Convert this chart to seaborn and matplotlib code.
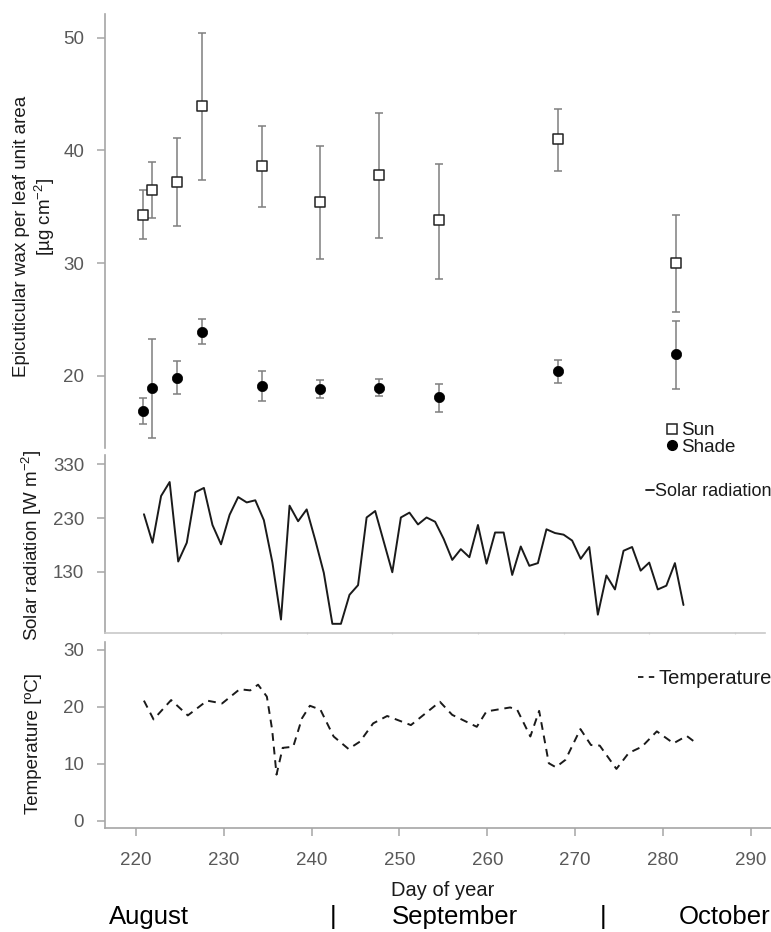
import matplotlib
matplotlib.use("Agg")
import matplotlib.pyplot as plt
import seaborn as sns
import pandas as pd
from matplotlib.lines import Line2D

# ---------------- data ----------------
wax_day = [220.8, 221.8, 224.7, 227.5, 234.3, 241.0, 247.7, 254.5, 268.0, 281.5]
sun_mean = [34.3, 36.5, 37.2, 43.9, 38.6, 35.4, 37.8, 33.8, 41.0, 30.0]
sun_hi = [36.5, 39.0, 41.1, 50.4, 42.2, 40.4, 43.3, 38.8, 43.7, 34.3]
sun_lo = [32.1, 34.0, 33.3, 37.4, 35.0, 30.4, 32.2, 28.6, 38.2, 25.7]
shade_mean = [16.9, 18.9, 19.8, 23.9, 19.1, 18.8, 18.9, 18.1, 20.4, 21.9]
shade_hi = [18.0, 23.3, 21.3, 25.0, 20.4, 19.6, 19.7, 19.3, 21.4, 24.9]
shade_lo = [15.7, 14.5, 18.4, 22.8, 17.8, 18.0, 18.2, 16.8, 19.4, 18.8]

solar_day = list(range(221, 285))
solar = [237, 184, 271, 297, 149, 184, 278, 286, 217, 181,
         236, 269, 259, 263, 226, 147, 41, 253, 224, 246,
         189, 128, 33, 33, 87, 105, 231, 243, 186, 129,
         231, 240, 218, 231, 223, 191, 152, 172, 157, 217,
         145, 203, 203, 124, 177, 141, 146, 209, 202, 199,
         188, 154, 176, 50, 123, 97, 169, 176, 132, 147,
         97, 104, 146, 68]

temp_day = [220.9, 222.0, 224.0, 225.9, 228.1, 229.8, 231.8, 233.0, 233.9, 234.9,
            235.5, 236.0, 236.7, 237.9, 238.9, 239.8, 241.0, 242.5, 244.2, 245.5,
            247.0, 248.6, 251.3, 254.6, 256.0, 258.8, 259.9, 262.6, 263.4, 264.9,
            265.9, 266.3, 267.0, 267.8, 268.9, 270.6, 271.8, 272.8, 274.7, 276.1,
            277.6, 279.3, 281.2, 282.7, 283.9]
temp = [21.1, 17.8, 21.2, 18.5, 21.1, 20.6, 23.1, 22.9, 23.9, 21.8,
        16.0, 8.1, 12.8, 13.0, 18.0, 20.2, 19.5, 14.8, 12.6, 13.9,
        17.1, 18.4, 16.8, 20.9, 18.6, 16.5, 19.2, 19.9, 19.5, 14.8,
        19.3, 16.0, 10.1, 9.4, 10.7, 16.1, 13.3, 13.2, 9.1, 11.9,
        13.0, 15.7, 13.6, 14.9, 13.5]

x_ticks = [220, 230, 240, 250, 260, 270, 280, 290]
wax_ticks = [20, 30, 40, 50]
solar_ticks = [130, 230, 330]
temp_ticks = [0, 10, 20, 30]
months = ["August", "September", "October"]

# ---------------- style ----------------
sns.set_theme(style="white")
plt.rcParams["font.family"] = ["Liberation Sans", "DejaVu Sans"]
plt.rcParams["mathtext.fontset"] = "custom"
plt.rcParams["mathtext.rm"] = "Liberation Sans"
plt.rcParams["mathtext.default"] = "regular"

SPINE = "#a6a6a6"
TICKLAB = "#595959"
TXT = "#1a1a1a"
W, H = 771, 932

fig = plt.figure(figsize=(W / 100, H / 100), dpi=100)
fig.patch.set_facecolor("white")

def fx(px):
    return px / W

def fy(py):
    return 1 - py / H

ax1 = fig.add_axes([fx(105), fy(448), fx(771 - 105), (448 - 14) / H])
ax2 = fig.add_axes([fx(105), fy(633), fx(765 - 105), (633 - 455) / H])
ax3 = fig.add_axes([fx(105), fy(828), fx(771 - 105), (828 - 642) / H])

for ax in (ax1, ax2, ax3):
    ax.set_facecolor("none")
    for s in ("top", "right"):
        ax.spines[s].set_visible(False)
    for s in ("left", "bottom"):
        ax.spines[s].set_color(SPINE)
        ax.spines[s].set_linewidth(1.2)
    ax.tick_params(axis="y", length=6, width=1.1, color=SPINE, pad=9,
                   labelsize=13.5, labelcolor=TICKLAB, left=True)

# ---- top panel: epicuticular wax ----
wax = pd.DataFrame({"day": wax_day, "sun": sun_mean, "shade": shade_mean})
ax1.errorbar(wax_day, sun_mean,
             yerr=[[m - l for m, l in zip(sun_mean, sun_lo)],
                   [h - m for m, h in zip(sun_mean, sun_hi)]],
             fmt="none", ecolor="#7f7f7f", elinewidth=1.1, capsize=3, capthick=1.1, zorder=2)
ax1.errorbar(wax_day, shade_mean,
             yerr=[[m - l for m, l in zip(shade_mean, shade_lo)],
                   [h - m for m, h in zip(shade_mean, shade_hi)]],
             fmt="none", ecolor="#7f7f7f", elinewidth=1.1, capsize=3, capthick=1.1, zorder=2)
sns.scatterplot(data=wax, x="day", y="sun", ax=ax1, marker="s", s=50,
                facecolor="white", edgecolor="#222222", linewidth=1.1, zorder=3)
sns.scatterplot(data=wax, x="day", y="shade", ax=ax1, marker="o", s=55,
                color="black", edgecolor="black", linewidth=0.5, zorder=3)
ax1.set_xlim(216.47, 292.3)
ax1.set_ylim(13.6, 52.1)
ax1.set_yticks(wax_ticks)
ax1.spines["bottom"].set_visible(False)
ax1.set_xticks([])
ax1.set_xlabel("")
ax1.set_ylabel("")

# ---- middle panel: solar radiation ----
sol = pd.DataFrame({"day": solar_day, "solar": solar})
sns.lineplot(data=sol, x="day", y="solar", ax=ax2, color="#1a1a1a", linewidth=1.4,
             sort=False, estimator=None)
ax2.set_xlim(216.45, 293.52)
ax2.set_ylim(15.9, 347.3)
ax2.set_yticks(solar_ticks)
ax2.set_xticks([230, 240, 250, 260, 270, 280, 290])
ax2.tick_params(axis="x", length=2, width=0.8, color="#d9d9d9", direction="inout",
                labelbottom=False, bottom=True)
ax2.spines["bottom"].set_color("#c8c8c8")
ax2.set_xlabel("")
ax2.set_ylabel("")

# ---- bottom panel: temperature ----
tdf = pd.DataFrame({"day": temp_day, "temp": temp})
sns.lineplot(data=tdf, x="day", y="temp", ax=ax3, color="#1a1a1a", linewidth=1.4,
             sort=False, estimator=None, dashes=False)
ax3.lines[-1].set_dashes([4.0, 3.0])
ax3.set_xlim(216.47, 292.3)
ax3.set_ylim(-1.28, 31.4)
ax3.set_yticks(temp_ticks)
ax3.set_xticks(x_ticks)
ax3.tick_params(axis="x", length=6, width=1.1, color=SPINE, pad=11,
                labelsize=13.5, labelcolor=TICKLAB, bottom=True)
ax3.set_xlabel("")
ax3.set_ylabel("")

# ---------------- y labels ----------------
fig.text(fx(22), fy(236), "Epicuticular wax per leaf unit area", rotation=90,
         ha="center", va="center", fontsize=13.5, color=TXT)
fig.text(fx(45), fy(217), r"[µg cm$^{-2}$]", rotation=90,
         ha="center", va="center", fontsize=13.5, color=TXT)
fig.text(fx(32), fy(545), r"Solar radiation [W m$^{-2}$]", rotation=90,
         ha="center", va="center", fontsize=13.5, color=TXT)
fig.text(fx(34), fy(743), "Temperature [ºC]", rotation=90,
         ha="center", va="center", fontsize=13.5, color=TXT)

# ---------------- x labels ----------------
fig.text(fx(443), fy(890), "Day of year", ha="center", va="center", fontsize=14.5, color=TXT)
fig.text(fx(109), fy(917), months[0], ha="left", va="center", fontsize=18.5, color="black")
fig.text(fx(333), fy(917), "|", ha="center", va="center", fontsize=18.5, color="black")
fig.text(fx(392), fy(917), months[1], ha="left", va="center", fontsize=18.5, color="black")
fig.text(fx(603), fy(917), "|", ha="center", va="center", fontsize=18.5, color="black")
fig.text(fx(679), fy(917), months[2], ha="left", va="center", fontsize=18.5, color="black")

# ---------------- legends ----------------
h_sun = Line2D([], [], linestyle="none", marker="s", markersize=7,
               markerfacecolor="white", markeredgecolor="#222222", markeredgewidth=1.1)
h_shade = Line2D([], [], linestyle="none", marker="o", markersize=7,
                 markerfacecolor="black", markeredgecolor="black")
fig.legend([h_sun, h_shade], ["Sun", "Shade"], loc="center left",
           bbox_to_anchor=(fx(666), fy(439)), frameon=False, fontsize=13.5,
           handlelength=0.6, handletextpad=0.2, labelspacing=-0.05,
           borderpad=0, borderaxespad=0, labelcolor=TXT)
h_sol = Line2D([], [], color="#1a1a1a", linewidth=1.3)
fig.legend([h_sol], ["Solar radiation"], loc="center left",
           bbox_to_anchor=(fx(646), fy(492)), frameon=False, fontsize=13,
           handlelength=0.45, handletextpad=0.05, borderpad=0, borderaxespad=0,
           labelcolor=TXT)
h_tmp = Line2D([], [], color="#1a1a1a", linewidth=1.3, dashes=[3.0, 3.0])
fig.legend([h_tmp], ["Temperature"], loc="center left",
           bbox_to_anchor=(fx(638), fy(679)), frameon=False, fontsize=14.5,
           handlelength=0.9, handletextpad=0.1, borderpad=0, borderaxespad=0,
           labelcolor=TXT)

fig.savefig("out.png", dpi=100)
